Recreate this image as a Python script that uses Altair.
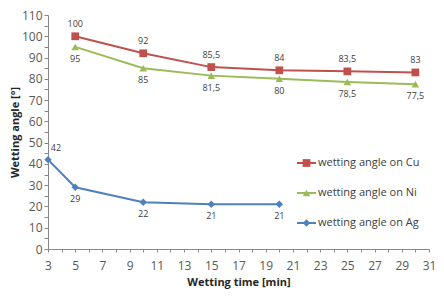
import altair as alt
import pandas as pd

# ---- data ----
series = ["wetting angle on Cu", "wetting angle on Ni", "wetting angle on Ag"]
colors = ["#C0504D", "#9BBB59", "#4F81BD"]
shapes = ["square", "triangle-up", "diamond"]

time_cu = [5, 10, 15, 20, 25, 30]
angle_cu = [100, 92, 85.5, 84, 83.5, 83]

time_ni = [5, 10, 15, 20, 25, 30]
angle_ni = [95, 85, 81.5, 80, 78.5, 77.5]

time_ag = [3, 5, 10, 15, 20]
angle_ag = [42, 29, 22, 21, 21]

x_ticks = list(range(3, 32))
y_ticks = list(range(0, 111, 5))

rows = []
for name, ts, vs in zip(series, [time_cu, time_ni, time_ag], [angle_cu, angle_ni, angle_ag]):
    for t, v in zip(ts, vs):
        lab = (f"{v:g}").replace(".", ",")
        rows.append({"series": name, "time": t, "angle": v, "label": lab})
df = pd.DataFrame(rows)
legend_df = pd.DataFrame({"series": series})

FONT = "Open Sans"

color_enc = alt.Color("series:N", scale=alt.Scale(domain=series, range=colors), legend=None)
shape_enc = alt.Shape("series:N", scale=alt.Scale(domain=series, range=shapes), legend=None)
size_enc = alt.Size("series:N", scale=alt.Scale(domain=series, range=[60, 55, 40]), legend=None)

x_enc = alt.X(
    "time:Q",
    scale=alt.Scale(domain=[3, 31], nice=False, zero=False),
    axis=alt.Axis(
        values=x_ticks,
        tickCount=200,
        format="d",
        labelExpr="datum.value % 2 == 1 ? datum.label : ''",
        labelOverlap=False,
        labelFlush=False,
        title="Wetting time [min]",
        titleY=33,
        titleBaseline="middle",
        tickSize=3,
        labelPadding=8,
    ),
)
y_enc = alt.Y(
    "angle:Q",
    scale=alt.Scale(domain=[0, 110], nice=False),
    axis=alt.Axis(
        values=y_ticks,
        tickCount=200,
        format="d",
        labelExpr="datum.value % 10 == 0 ? datum.label : ''",
        labelOverlap=False,
        labelFlush=False,
        title="Wetting angle [°]",
        titleX=-33,
        titleY=117,
        titleAngle=-90,
        titleAlign="center",
        titleBaseline="middle",
        tickSize=4,
        labelPadding=2,
    ),
)

base = alt.Chart(df)

lines = base.mark_line(strokeWidth=2).encode(x=x_enc, y=y_enc, color=color_enc, detail="series:N")
points = base.mark_point(filled=True, opacity=1).encode(
    x="time:Q", y="angle:Q", color=color_enc, shape=shape_enc, size=size_enc
)

lbl_kw = dict(fontSize=9, font=FONT, color="#404040")
lbl_above = base.mark_text(dy=-12, **lbl_kw).encode(x="time:Q", y="angle:Q", text="label:N").transform_filter(
    alt.datum.series == series[0]
)
lbl_below = base.mark_text(dy=12, **lbl_kw).encode(x="time:Q", y="angle:Q", text="label:N").transform_filter(
    (alt.datum.series == series[1]) | ((alt.datum.series == series[2]) & (alt.datum.time > 3))
)
lbl_first = base.mark_text(dy=-12, dx=8, **lbl_kw).encode(x="time:Q", y="angle:Q", text="label:N").transform_filter(
    (alt.datum.series == series[2]) & (alt.datum.time == 3)
)

main = alt.layer(lines, points, lbl_above, lbl_below, lbl_first)

# ---- manual legend (line + marker + text) ----
leg_y = alt.Y(
    "series:N",
    scale=alt.Scale(type="point", padding=0, domain=series, range=[148, 208]),
    axis=None,
)
leg = alt.Chart(legend_df)
leg_rule = leg.mark_rule(strokeWidth=2).encode(
    x=alt.value(249), x2=alt.value(268), y=leg_y, color=color_enc
)
leg_pt = leg.mark_point(filled=True, opacity=1).encode(
    x=alt.value(258.5), y=leg_y, color=color_enc, shape=shape_enc, size=size_enc
)
leg_txt = leg.mark_text(align="left", baseline="middle", fontSize=11, font=FONT, color="#404040").encode(
    x=alt.value(270), y=leg_y, text="series:N"
)
legend_layer = alt.layer(leg_rule, leg_pt, leg_txt)

chart = (
    alt.layer(main, legend_layer)
    .resolve_scale(y="independent")
    .properties(
        width=381,
        height=234,
        autosize=alt.AutoSizeParams(type="none"),
        padding={"left": 40, "top": 7, "right": 7, "bottom": 40},
    )
    .configure_view(stroke=None)
    .configure_axis(
        grid=False,
        domainColor="#868686",
        tickColor="#868686",
        labelColor="#595959",
        labelFont=FONT,
        labelFontSize=12,
        titleFont=FONT,
        titleFontSize=11,
        titleFontWeight="bold",
        titleColor="#262626",
    )
)

chart.save("out.html", embed_options={"renderer": "svg", "actions": False})
